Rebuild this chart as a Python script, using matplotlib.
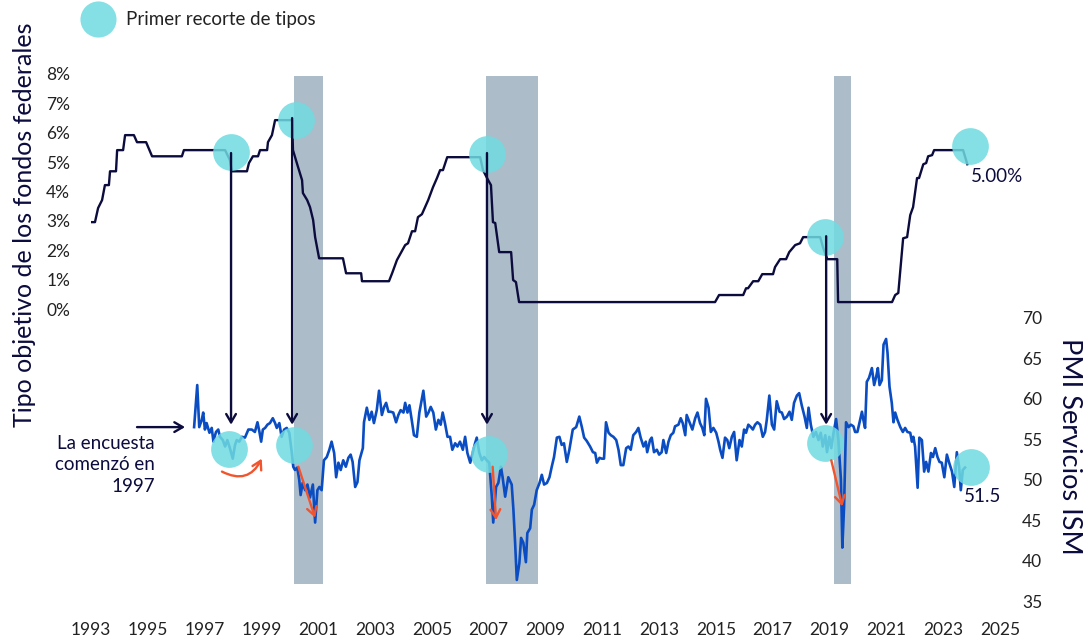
import matplotlib
matplotlib.use("Agg")
import matplotlib.pyplot as plt
from matplotlib.lines import Line2D

plt.rcParams['font.family'] = ['Lato', 'DejaVu Sans']

# Tipo objetivo de los fondos federales (%), trazado del grafico
fed_year = [1992.93, 1993.14, 1993.25, 1993.39, 1993.49, 1993.63, 1993.67, 1993.88, 1993.92, 1994.13,
            1994.20, 1994.51, 1994.62, 1994.94, 1995.15, 1996.20, 1996.27, 1997.72, 1997.89, 1997.96,
            1998.49, 1998.56, 1998.70, 1998.88, 1998.95, 1999.20, 1999.23, 1999.37, 1999.48, 2000.08,
            2000.11, 2000.29, 2000.43, 2000.46, 2000.61, 2000.71, 2000.82, 2000.89, 2001.03, 2001.87,
            2001.98, 2002.51, 2002.54, 2003.49, 2003.60, 2003.77, 2004.06, 2004.16, 2004.30, 2004.41,
            2004.51, 2004.65, 2004.87, 2005.04, 2005.18, 2005.29, 2005.39, 2005.54, 2006.70, 2006.80,
            2006.98, 2007.08, 2007.15, 2007.23, 2007.37, 2007.79, 2007.86, 2007.96, 2008.07, 2014.97,
            2015.11, 2015.96, 2016.06, 2016.13, 2016.31, 2016.49, 2016.63, 2017.01, 2017.08, 2017.26,
            2017.47, 2017.58, 2017.79, 2017.96, 2018.07, 2018.67, 2018.77, 2018.92, 2019.27, 2019.30,
            2021.20, 2021.31, 2021.42, 2021.59, 2021.73, 2021.84, 2021.94, 2022.08, 2022.15, 2022.30,
            2022.40, 2022.47, 2022.61, 2022.68, 2023.70, 2023.85]
fed_rate = [2.96, 2.96, 3.44, 3.71, 4.22, 4.22, 4.69, 4.69, 5.41, 5.41,
            5.92, 5.92, 5.68, 5.68, 5.20, 5.20, 5.41, 5.41, 5.07, 4.69,
            4.69, 4.97, 5.20, 5.20, 5.41, 5.41, 5.68, 5.92, 6.43, 6.43,
            5.41, 4.83, 4.39, 3.95, 3.71, 3.47, 3.03, 2.45, 1.73, 1.73,
            1.22, 1.22, 0.95, 0.95, 1.22, 1.67, 2.18, 2.24, 2.65, 2.65,
            3.13, 3.23, 3.71, 4.15, 4.46, 4.73, 4.73, 5.17, 5.17, 4.73,
            4.39, 4.22, 2.96, 2.93, 1.94, 1.94, 0.99, 0.92, 0.24, 0.24,
            0.48, 0.48, 0.71, 0.71, 0.95, 0.95, 1.19, 1.19, 1.43, 1.70,
            1.70, 1.94, 2.18, 2.24, 2.45, 2.45, 2.10, 1.70, 1.70, 0.24,
            0.24, 0.48, 0.55, 2.41, 2.45, 3.20, 3.47, 4.46, 4.46, 4.93,
            4.97, 5.20, 5.24, 5.41, 5.41, 4.93]

# PMI de servicios ISM
pmi_year = [1996.63, 1996.74, 1996.81, 1996.90, 1996.95, 1997.01, 1997.07, 1997.17, 1997.25, 1997.31,
            1997.40, 1997.48, 1997.54, 1997.64, 1997.72, 1997.80, 1997.89, 1997.99, 1998.07, 1998.13,
            1998.22, 1998.31, 1998.42, 1998.54, 1998.66, 1998.77, 1998.86, 1998.93, 1998.99, 1999.05,
            1999.13, 1999.21, 1999.30, 1999.40, 1999.48, 1999.54, 1999.63, 1999.71, 1999.80, 1999.89,
            1999.98, 2000.07, 2000.12, 2000.18, 2000.26, 2000.33, 2000.38, 2000.45, 2000.54, 2000.62,
            2000.71, 2000.81, 2000.89, 2000.97, 2001.04, 2001.12, 2001.20, 2001.30, 2001.39, 2001.47,
            2001.56, 2001.63, 2001.71, 2001.79, 2001.88, 2001.97, 2002.06, 2002.14, 2002.21, 2002.30,
            2002.38, 2002.45, 2002.57, 2002.61, 2002.71, 2002.80, 2002.88, 2002.96, 2003.06, 2003.14,
            2003.24, 2003.32, 2003.39, 2003.47, 2003.55, 2003.64, 2003.74, 2003.82, 2003.90, 2004.00,
            2004.06, 2004.14, 2004.21, 2004.29, 2004.37, 2004.47, 2004.56, 2004.70, 2004.80, 2004.88,
            2004.96, 2005.05, 2005.14, 2005.23, 2005.31, 2005.38, 2005.46, 2005.55, 2005.64, 2005.72,
            2005.82, 2005.90, 2005.99, 2006.09, 2006.17, 2006.25, 2006.35, 2006.44, 2006.52, 2006.58,
            2006.67, 2006.76, 2006.84, 2006.93, 2007.02, 2007.11, 2007.16, 2007.26, 2007.34, 2007.43,
            2007.49, 2007.58, 2007.69, 2007.81, 2007.87, 2007.93, 2007.99, 2008.08, 2008.14, 2008.22,
            2008.31, 2008.36, 2008.46, 2008.52, 2008.60, 2008.69, 2008.79, 2008.87, 2008.95, 2009.05,
            2009.14, 2009.22, 2009.30, 2009.40, 2009.49, 2009.57, 2009.65, 2009.75, 2009.84, 2009.96,
            2010.08, 2010.19, 2010.28, 2010.36, 2010.45, 2010.57, 2010.67, 2010.75, 2010.81, 2010.90,
            2010.98, 2011.06, 2011.13, 2011.22, 2011.30, 2011.39, 2011.49, 2011.57, 2011.65, 2011.74,
            2011.84, 2011.92, 2012.00, 2012.09, 2012.19, 2012.27, 2012.35, 2012.45, 2012.53, 2012.58,
            2012.68, 2012.74, 2012.82, 2012.92, 2013.00, 2013.09, 2013.15, 2013.25, 2013.33, 2013.41,
            2013.50, 2013.56, 2013.68, 2013.76, 2013.83, 2013.92, 2013.97, 2014.07, 2014.17, 2014.27,
            2014.35, 2014.44, 2014.52, 2014.59, 2014.65, 2014.74, 2014.82, 2014.91, 2015.01, 2015.09,
            2015.15, 2015.23, 2015.32, 2015.40, 2015.47, 2015.56, 2015.64, 2015.73, 2015.83, 2015.91,
            2015.99, 2016.06, 2016.14, 2016.23, 2016.30, 2016.38, 2016.46, 2016.56, 2016.65, 2016.73,
            2016.79, 2016.88, 2016.97, 2017.05, 2017.14, 2017.24, 2017.32, 2017.40, 2017.50, 2017.59,
            2017.67, 2017.75, 2017.85, 2017.93, 2018.02, 2018.12, 2018.20, 2018.26, 2018.34, 2018.43,
            2018.52, 2018.61, 2018.69, 2018.76, 2018.85, 2018.91, 2018.99, 2019.06, 2019.14, 2019.23,
            2019.31, 2019.40, 2019.45, 2019.51, 2019.58, 2019.67, 2019.75, 2019.84, 2019.90, 2019.98,
            2020.05, 2020.14, 2020.19, 2020.25, 2020.31, 2020.39, 2020.49, 2020.57, 2020.64, 2020.70,
            2020.76, 2020.84, 2020.90, 2020.99, 2021.04, 2021.11, 2021.19, 2021.25, 2021.31, 2021.39,
            2021.49, 2021.58, 2021.66, 2021.74, 2021.84, 2021.90, 2021.95, 2022.01, 2022.10, 2022.16,
            2022.25, 2022.33, 2022.40, 2022.48, 2022.57, 2022.64, 2022.72, 2022.80, 2022.87, 2022.95,
            2023.04, 2023.13, 2023.21, 2023.31, 2023.39, 2023.48, 2023.56, 2023.62, 2023.69, 2023.77]
pmi_value = [56.5, 61.7, 56.5, 57.4, 58.3, 56.2, 57.0, 55.8, 56.4, 54.7,
             55.9, 56.2, 55.3, 54.9, 54.1, 54.9, 53.9, 52.6, 54.3, 54.9,
             54.7, 55.3, 55.2, 56.2, 56.2, 55.9, 57.1, 55.9, 54.7, 56.2,
             56.4, 56.8, 57.0, 57.6, 57.0, 56.4, 57.0, 55.3, 56.2, 56.4,
             55.8, 53.3, 51.6, 51.2, 51.5, 50.0, 48.1, 49.6, 48.7, 49.4,
             47.8, 49.4, 44.7, 48.7, 49.1, 48.7, 52.4, 52.8, 53.7, 54.7,
             53.3, 50.3, 52.1, 51.2, 52.4, 51.6, 52.7, 53.1, 52.2, 49.1,
             49.7, 52.4, 53.9, 57.1, 58.9, 57.4, 58.4, 57.0, 58.6, 61.0,
             58.0, 59.0, 59.5, 58.4, 58.4, 58.3, 57.1, 58.0, 58.6, 58.3,
             59.5, 58.3, 59.2, 57.4, 55.5, 55.3, 58.3, 61.0, 57.8, 58.3,
             59.0, 58.3, 56.2, 57.4, 56.8, 58.3, 57.0, 55.3, 55.3, 53.7,
             54.5, 54.1, 54.7, 53.7, 55.3, 53.3, 52.1, 53.4, 54.5, 55.2,
             53.3, 52.4, 52.8, 52.4, 52.1, 47.9, 44.7, 49.1, 49.6, 51.6,
             50.3, 47.9, 50.3, 49.4, 46.3, 42.2, 37.6, 39.7, 42.8, 42.2,
             39.8, 43.4, 44.0, 46.3, 46.9, 48.7, 49.6, 50.6, 49.4, 49.6,
             50.3, 51.6, 52.8, 55.2, 55.3, 54.3, 54.5, 52.2, 53.7, 56.2,
             56.5, 57.8, 56.5, 55.2, 54.8, 54.1, 53.4, 53.3, 52.1, 52.7,
             52.6, 52.6, 57.1, 55.8, 55.5, 55.3, 54.9, 53.7, 51.8, 51.8,
             53.9, 54.1, 53.7, 55.5, 55.9, 56.4, 55.2, 54.1, 54.7, 53.4,
             54.9, 55.2, 53.4, 53.7, 53.1, 53.4, 54.9, 53.3, 54.7, 55.5,
             55.8, 56.6, 56.8, 57.6, 57.0, 55.5, 58.0, 57.1, 56.2, 57.6,
             58.3, 57.0, 56.4, 55.5, 60.0, 58.9, 55.9, 56.4, 55.8, 54.7,
             53.7, 52.7, 55.2, 54.9, 53.9, 55.3, 55.9, 52.4, 54.9, 54.1,
             56.2, 55.8, 56.8, 56.5, 56.2, 56.8, 57.1, 56.8, 55.3, 55.9,
             57.4, 60.4, 56.8, 56.2, 59.7, 58.4, 58.3, 57.5, 57.8, 58.4,
             57.4, 59.5, 60.4, 60.7, 59.2, 57.8, 56.4, 58.9, 56.8, 55.3,
             55.9, 54.9, 55.8, 54.1, 55.5, 53.4, 55.3, 53.9, 55.8, 57.5,
             54.9, 50.0, 41.6, 46.6, 57.1, 56.5, 56.8, 56.6, 55.9, 55.9,
             57.0, 58.4, 57.4, 56.4, 62.1, 62.6, 63.8, 61.7, 62.7, 63.8,
             61.7, 62.3, 66.7, 67.4, 65.7, 61.5, 59.5, 57.1, 58.3, 57.4,
             56.5, 55.9, 56.4, 55.9, 55.8, 54.7, 55.3, 54.1, 49.0, 55.2,
             54.9, 51.0, 52.2, 51.0, 53.3, 52.8, 53.9, 52.8, 52.2, 52.1,
             50.3, 53.1, 52.1, 51.0, 49.1, 53.4, 51.6, 48.7, 51.2, 51.5]

# recesiones (bandas grises)
rec_start = [2000.15, 2006.91, 2019.16]
rec_end = [2001.17, 2008.74, 2019.76]

# primer recorte de tipos: posicion en cada serie
cut_fed_x = [1997.93, 2000.22, 2006.94, 2018.85, 2023.95]
cut_fed_y = [5.34, 6.43, 5.27, 2.45, 5.54]
cut_pmi_x = [1997.86, 2000.15, 2007.01, 2018.85, 2023.99]
cut_pmi_y = [53.8, 54.3, 53.2, 54.5, 51.6]

# flechas verticales: (anio, tipo de partida, PMI de llegada)
arrow_x = [1997.93, 2000.08, 2006.94, 2018.88]
arrow_fed = [5.31, 6.50, 5.31, 2.48]
arrow_pmi = [56.8, 56.8, 56.8, 56.8]

# flechas rojas rectas (inicio -> fin, en PMI)
red_x0 = [2000.30, 2007.14, 2019.06]
red_y0 = [51.6, 51.6, 52.4]
red_x1 = [2000.89, 2007.26, 2019.45]
red_y1 = [45.3, 45.0, 46.7]

navy = '#0b0b3d'
blue = '#0a4cc2'
cyan = '#6fdbe0'
red = '#f2542d'
band = '#adbcc9'

fig = plt.figure(figsize=(10.84, 6.39), dpi=100)
ax = fig.add_axes([91 / 1084, 38 / 639, 909 / 1084, 527 / 639])
ax.set_xlim(1993, 2025)
ax.set_ylim(-9.93, 8)
ax2 = ax.twinx()
ax2.set_ylim(35, 100.16)

for s, e in zip(rec_start, rec_end):
    ax.axvspan(s, e, ymin=0.032, ymax=0.996, color=band, lw=0, zorder=0)

ax.plot(fed_year, fed_rate, color=navy, lw=1.7, zorder=3)
ax2.plot(pmi_year, pmi_value, color=blue, lw=1.9, zorder=3)

hd = '->,head_length=0.6,head_width=0.35'
for x, f, p in zip(arrow_x, arrow_fed, arrow_pmi):
    ax2.annotate('', xy=(x, p), xycoords='data', xytext=(x, f), textcoords=ax.transData,
                 arrowprops=dict(arrowstyle=hd, color=navy, lw=1.7, shrinkA=0, shrinkB=0), zorder=4)

ax.scatter(cut_fed_x, cut_fed_y, s=700, color=cyan, alpha=0.85, lw=0, zorder=5)
ax2.scatter(cut_pmi_x, cut_pmi_y, s=700, color=cyan, alpha=0.85, lw=0, zorder=5)

for x0, y0, x1, y1 in zip(red_x0, red_y0, red_x1, red_y1):
    ax2.annotate('', xy=(x1, y1), xytext=(x0, y0),
                 arrowprops=dict(arrowstyle=hd, color=red, lw=1.7, shrinkA=0, shrinkB=0), zorder=6)
ax2.annotate('', xy=(1999.01, 52.6), xytext=(1997.61, 51.0),
             arrowprops=dict(arrowstyle=hd, color=red, lw=1.7, shrinkA=0, shrinkB=0,
                             connectionstyle='arc3,rad=0.5'), zorder=6)

# nota inicio encuesta
ax2.annotate('', xy=(1996.31, 56.5), xytext=(1994.62, 56.5),
             arrowprops=dict(arrowstyle=hd, color=navy, lw=1.7, shrinkA=0, shrinkB=0))
ax2.text(1995.25, 55.5, 'La encuesta\ncomenzó en\n1997', ha='right', va='top',
         fontsize=13.5, color=navy, linespacing=1.3)

ax.text(2023.98, 4.5, '5.00%', ha='left', va='center', fontsize=13.5, color=navy)
ax2.text(2023.72, 47.9, '51.5', ha='left', va='center', fontsize=13.5, color=navy)

for a in (ax, ax2):
    for sp in a.spines.values():
        sp.set_visible(False)
ax.set_yticks(range(0, 9))
ax.set_yticklabels([f'{v}%' for v in range(0, 9)])
ax2.set_yticks(range(35, 71, 5))
ax.set_xticks(range(1993, 2026, 2))
ax.tick_params(axis='x', length=0, pad=15, labelsize=12.5, labelcolor='#222222')
ax.tick_params(axis='y', length=0, pad=15, labelsize=12.5, labelcolor='#222222')
ax2.tick_params(axis='y', length=0, pad=16, labelsize=12.5, labelcolor='#222222')

fig.text(25 / 1084, 1 - 225 / 639, 'Tipo objetivo de los fondos federales', rotation=90,
         ha='center', va='center', fontsize=18, color=navy)
fig.text(1070 / 1084, 1 - 446 / 639, 'PMI Servicios ISM', rotation=270,
         ha='center', va='center', fontsize=19.5, color=navy)

fig.add_artist(Line2D([98 / 1084], [1 - 19 / 639], marker='o', markersize=26, color=cyan,
                      alpha=0.85, lw=0, markeredgewidth=0, transform=fig.transFigure))
fig.text(126 / 1084, 1 - 19 / 639, 'Primer recorte de tipos', ha='left', va='center',
         fontsize=13.5, color='#222222')

fig.savefig('out.png', dpi=100)
